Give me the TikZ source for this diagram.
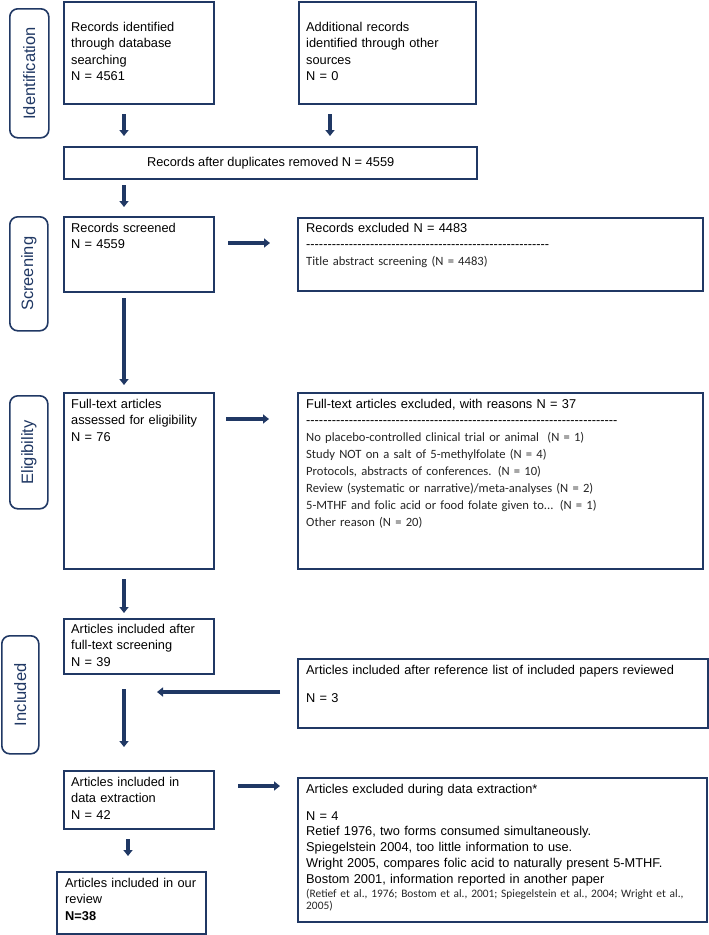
\documentclass[tikz,border=0pt]{standalone}
\usepackage{fontspec}
\setmainfont{Liberation Sans}[Ligatures=TeXOff]
\newfontfamily\calfont{Carlito}
\usetikzlibrary{arrows.meta,calc}
\definecolor{navy}{RGB}{32,56,100}
\tikzset{
  box/.style={draw=navy, line width=2.3pt, anchor=north west, inner sep=0pt, fill=white},
  lab/.style={draw=navy, line width=1.6pt, rounded corners=8pt, anchor=north west, inner sep=0pt},
  labtxt/.style={text=navy, font=\fontsize{16.5}{18}\selectfont, rotate=90, inner sep=0pt},
  txt/.style={anchor=base west, inner sep=0pt, align=left, text width=400pt, font=\fontsize{12.8}{16.3}\selectfont},
  ctxt/.style={anchor=base west, inner sep=0pt, align=left, text width=400pt, text=black!85, font=\calfont\fontsize{12.6}{17}\selectfont},
  stxt/.style={anchor=base west, inner sep=0pt, align=left, text width=400pt, text=black!85, font=\calfont\fontsize{11.4}{12}\selectfont},
  arr/.style={draw=navy, line width=3.6pt, -{Triangle[length=6pt,width=9pt]}},
}
\begin{document}
\begin{tikzpicture}[x=1pt,y=-1pt]
\useasboundingbox[fill=white] (0,0) rectangle (709,935);

% phase labels
\node[lab, minimum width=39, minimum height=129] (lab1) at (9,8) {};
\node[labtxt] (lab1t) at (lab1.center) {Identification};
\node[lab, minimum width=38, minimum height=114] (lab2) at (9,216) {};
\node[labtxt] (lab2t) at (lab2.center) {Screening};
\node[lab, minimum width=38, minimum height=113] (lab3) at (9,395) {};
\node[labtxt] (lab3t) at (lab3.center) {Eligibility};
\node[lab, minimum width=37, minimum height=118] (lab4) at (1,635) {};
\node[labtxt] (lab4t) at (lab4.center) {Included};

% boxes
\node[box, minimum width=150, minimum height=102] (b1) at (63,1) {};
\node[txt] (b1t) at (71,31.5) {Records identified\\through database\\searching\\N = 4561};

\node[box, minimum width=177, minimum height=102] (b2) at (298,1) {};
\node[txt] (b2t) at (306,31.5) {Additional records\\identified through other\\sources\\N = 0};

\node[box, minimum width=413, minimum height=32, font=\fontsize{12.8}{16.3}\selectfont] (dup) at (63,146) {Records after duplicates removed N = 4559};

\node[box, minimum width=150, minimum height=75] (scr) at (63,216) {};
\node[txt] (scrt) at (71,232.5) {Records screened\\N = 4559};

\node[box, minimum width=405, minimum height=73] (exc1) at (297,217) {};
\node[txt] (exc1h) at (306,232.5) {Records excluded N = 4483};
\node[txt] (exc1d) at (306,248.5) {---------------------------------------------------------};
\node[ctxt] (exc1t) at (306,265.5) {Title abstract screening (N = 4483)};

\node[box, minimum width=150, minimum height=176] (ft) at (63,392) {};
\node[txt] (ftt) at (71,408.5) {Full-text articles\\assessed for eligibility\\N = 76};

\node[box, minimum width=405, minimum height=176] (exc2) at (297,392) {};
\node[txt] (exc2h) at (306,408.5) {Full-text articles excluded, with reasons N = 37};
\node[txt] (exc2d) at (306,424.5) {-------------------------------------------------------------------------};
\node[ctxt] (exc2t) at (306,441.5) {No placebo-controlled clinical trial or animal\ \ (N = 1)\\Study NOT on a salt of 5-methylfolate (N = 4)\\Protocols, abstracts of conferences. (N = 10)\\Review (systematic or narrative)/meta-analyses (N = 2)\\5-MTHF and folic acid or food folate given to... (N = 1)\\Other reason (N = 20)};

\node[box, minimum width=150, minimum height=55] (inc1) at (63,618) {};
\node[txt] (inc1t) at (71,633.5) {Articles included after\\full-text screening\\N = 39};

\node[box, minimum width=410, minimum height=69] (ref) at (297,658) {};
\node[txt] (reft) at (306,674.5) {Articles included after reference list of included papers reviewed};
\node[txt] (refn) at (306,702.5) {N = 3};

\node[box, minimum width=150, minimum height=58] (ext) at (63,770) {};
\node[txt] (extt) at (71,786.5) {Articles included in\\data extraction\\N = 42};

\node[box, minimum width=409, minimum height=144] (exc3) at (297,777) {};
\node[txt] (exc3h) at (306,793.5) {Articles excluded during data extraction*};
\node[txt, font=\fontsize{12.8}{15.9}\selectfont] (exc3t) at (306,820) {N = 4\\Retief 1976, two forms consumed simultaneously.\\Spiegelstein 2004, too little information to use.\\Wright 2005, compares folic acid to naturally present 5-MTHF.\\Bostom 2001, information reported in another paper};
\node[stxt] (exc3s) at (306,897.5) {(Retief et al., 1976; Bostom et al., 2001; Spiegelstein et al., 2004; Wright et al.,\\2005)};

\node[box, minimum width=149, minimum height=62] (fin) at (56,871) {};
\node[txt] (fint) at (65,887.5) {Articles included in our\\review\\\textbf{N=38}};

% connectors
\coordinate (join) at (157,692);
\draw[arr] ($(b1.south west)+(61,9)$) -- ($(dup.north west)+(61,-10)$);
\draw[arr] ($(b2.south west)+(32,9)$) -- ($(dup.north west)+(267,-10)$);
\draw[arr] ($(dup.south west)+(61,5)$) -- ($(scr.north west)+(61,-9)$);
\draw[arr] ($(scr.north east)+(13,27)$) -- ($(exc1.north west)+(-27,26)$);
\draw[arr] ($(scr.south west)+(61,5)$) -- ($(ft.north west)+(61,-7)$);
\draw[arr] ($(ft.north east)+(11,27)$) -- ($(exc2.north west)+(-28,27)$);
\draw[arr] ($(ft.south west)+(61,9)$) -- ($(inc1.north west)+(61,-5)$);
\draw[arr] ($(inc1.south west)+(61,14)$) -- ($(ext.north west)+(61,-23)$);
\draw[arr] ($(ref.north west)+(-17,34)$) -- (join);
\draw[arr] ($(ext.north east)+(23,16)$) -- ($(exc3.north west)+(-17,9)$);
\draw[arr] ($(ext.south west)+(65,9)$) -- ($(fin.north west)+(72,-15)$);
\end{tikzpicture}
\end{document}
